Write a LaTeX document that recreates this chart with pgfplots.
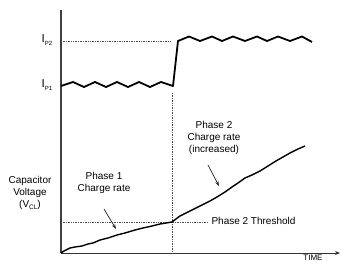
\documentclass[border=0pt]{standalone}
\usepackage{pgfplots}
\pgfplotsset{compat=1.18}
\usepackage{fontspec}
\setmainfont{Liberation Sans}
\usetikzlibrary{arrows.meta}
\definecolor{axgray}{gray}{0.25}
\begin{document}
\begin{tikzpicture}
\begin{axis}[
  width=360pt, height=278pt, scale only axis,
  xmin=0, xmax=360, ymin=0, ymax=278, y dir=reverse,
  hide axis, clip=false,
  every node/.style={font=\fontsize{10.8}{15}\selectfont, text=black!85}
]
\addplot[draw=none, forget plot] coordinates {(0,0) (360,278)};
% axes
\addplot[axgray, line width=1.7pt] coordinates {(61,10) (61,253)};
\addplot[black!80, line width=0.9pt, -{Stealth[length=5pt,width=4pt]}] coordinates {(61,253) (340,253)};
% dotted guide lines
\addplot[black!70, line width=0.7pt, densely dotted] coordinates {(61,41) (171,41)};
\addplot[black!70, line width=0.7pt, densely dotted] coordinates {(172,93) (172,253)};
\addplot[black!70, line width=0.7pt, densely dotted] coordinates {(61,222) (208,222)};
% current waveform
\addplot[black, line width=1.8pt, line join=round] coordinates {
(61,86) (73,82) (84,87) (95,82) (106,87) (117,82) (128,87) (139,82) (150,87) (161,82) (173,86)
(178,41) (189,36.5) (200,41) (212,36.5) (222,41) (233,36.5) (245,41) (257,36.5) (267,41) (278,36.5) (290,41) (302,36.5) (312,42)
};
% capacitor voltage
\addplot[black, line width=1.4pt, line join=round] coordinates {
(61,253) (64,251) (70,248) (75,247) (82,246) (88,244) (93,243) (100,240) (108,238) (117,235)
(125,233) (135,230) (143,228) (152,226) (160,224) (166,223) (172,222)
(180,216) (190,211) (200,206) (210,201) (217,197) (225,192) (232,187) (238,183) (245,178)
(252,175) (260,171) (268,166) (276,161) (283,157) (290,153) (298,149) (305,146)
};
% annotation arrows
\addplot[black!85, line width=0.7pt, -{Stealth[length=5pt,width=3.5pt]}] coordinates {(104,209) (116,229)};
\addplot[black!85, line width=0.7pt, -{Stealth[length=5pt,width=3.5pt]}] coordinates {(208,165) (219,186)};
% labels
\node[anchor=center, font=\fontsize{11.5}{12}\selectfont] at (axis cs:47,40) {I\raisebox{-3.5pt}{\fontsize{6}{6}\selectfont P2}};
\node[anchor=center, font=\fontsize{11.5}{12}\selectfont] at (axis cs:47,85) {I\raisebox{-3.5pt}{\fontsize{6}{6}\selectfont P1}};
\node[align=center] at (axis cs:30,193) {Capacitor\\Voltage\\(V\raisebox{-2pt}{\fontsize{6.5}{6}\selectfont CL})};
\node[align=center] at (axis cs:104,183) {Phase 1\\Charge rate};
\node[align=center] at (axis cs:214,138) {Phase 2\\Charge rate\\(increased)};
\node[anchor=west] at (axis cs:208,221) {Phase 2 Threshold};
\node[font=\fontsize{8}{8}\selectfont] at (axis cs:313,258) {TIME};
\end{axis}
\end{tikzpicture}
\end{document}
